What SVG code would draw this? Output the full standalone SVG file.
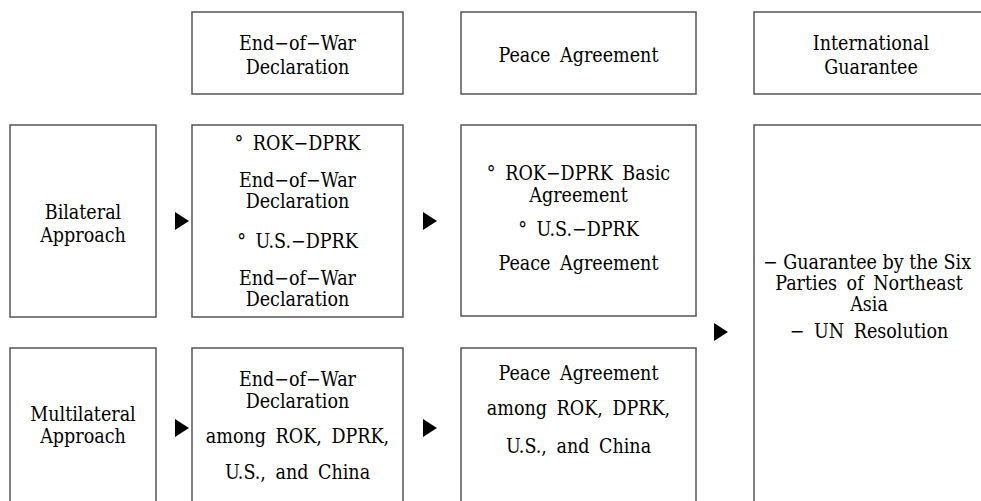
<svg xmlns="http://www.w3.org/2000/svg" width="981" height="501" viewBox="0 0 981 501">
<style>
.box{fill:#fff;stroke:#555;stroke-width:1.5}
text{font-family:"DejaVu Serif Condensed","DejaVu Serif",serif;font-stretch:condensed;font-size:19.5px;fill:#000;text-anchor:middle;word-spacing:4px}
.arr{fill:#000}
</style>
<rect width="981" height="501" fill="#fff"/>
<g id="hdr-eow">
<rect class="box" x="192" y="12" width="211" height="82"/>
<text x="297.5" y="50">End−of−War</text>
<text x="297.5" y="74">Declaration</text>
</g>
<g id="hdr-peace">
<rect class="box" x="461" y="12" width="235" height="82"/>
<text x="578.5" y="62">Peace Agreement</text>
</g>
<g id="hdr-intl">
<rect class="box" x="754" y="12" width="240" height="82"/>
<text x="871" y="50">International</text>
<text x="871" y="74">Guarantee</text>
</g>
<g id="bilateral">
<rect class="box" x="10" y="125" width="146" height="192"/>
<text x="83" y="219">Bilateral</text>
<text x="83" y="242">Approach</text>
</g>
<g id="bi-eow">
<rect class="box" x="192" y="125" width="211" height="192"/>
<text x="297.5" y="150">° ROK−DPRK</text>
<text x="297.5" y="187">End−of−War</text>
<text x="297.5" y="208">Declaration</text>
<text x="297.5" y="248">° U.S.−DPRK</text>
<text x="297.5" y="285">End−of−War</text>
<text x="297.5" y="306">Declaration</text>
</g>
<g id="bi-peace">
<rect class="box" x="461" y="125" width="235" height="191"/>
<text x="578.5" y="180">° ROK−DPRK Basic</text>
<text x="578.5" y="202">Agreement</text>
<text x="578.5" y="236">° U.S.−DPRK</text>
<text x="578.5" y="270">Peace Agreement</text>
</g>
<g id="guarantee">
<rect class="box" x="754" y="125" width="240" height="400"/>
<text x="867" y="269" style="word-spacing:0">− Guarantee by the Six</text>
<text x="869" y="290">Parties of Northeast</text>
<text x="869" y="311">Asia</text>
<text x="869" y="338">− UN Resolution</text>
</g>
<g id="multilateral">
<rect class="box" x="10" y="348" width="146" height="170"/>
<text x="83" y="421">Multilateral</text>
<text x="83" y="443">Approach</text>
</g>
<g id="multi-eow">
<rect class="box" x="192" y="348" width="211" height="170"/>
<text x="297.5" y="386">End−of−War</text>
<text x="297.5" y="408">Declaration</text>
<text x="297.5" y="443">among ROK, DPRK,</text>
<text x="297.5" y="479">U.S., and China</text>
</g>
<g id="multi-peace">
<rect class="box" x="461" y="348" width="235" height="170"/>
<text x="578.5" y="380">Peace Agreement</text>
<text x="578.5" y="415">among ROK, DPRK,</text>
<text x="578.5" y="453">U.S., and China</text>
</g>
<g id="connectors">
<polygon class="arr" points="175,212 189,221 175,230"/>
<polygon class="arr" points="423,212 437,221 423,230"/>
<polygon class="arr" points="175,419 189,428 175,437"/>
<polygon class="arr" points="423,419 437,428 423,437"/>
<polygon class="arr" points="714,323 728,332 714,341"/>
</g>
</svg>
